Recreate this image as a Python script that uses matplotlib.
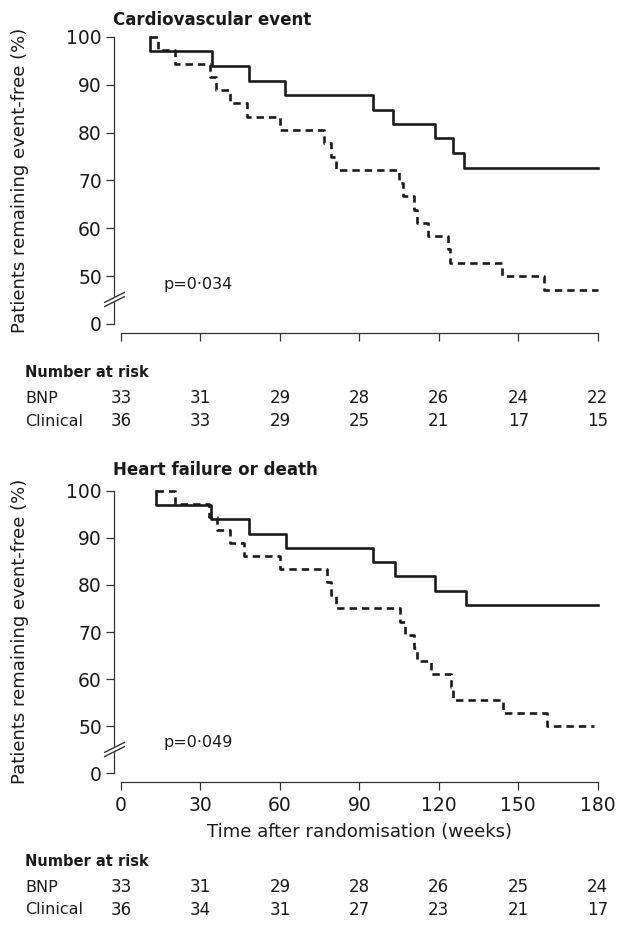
import numpy as np
import matplotlib
matplotlib.use('Agg')
import matplotlib.pyplot as plt
import matplotlib.transforms as mtransforms
from matplotlib.path import Path

plt.rcParams['font.family'] = ['DejaVu Sans']

weeks = [0, 30, 60, 90, 120, 150, 180]
y_ticks = [0, 50, 60, 70, 80, 90, 100]

# Cardiovascular event (top panel)
cv_bnp_t = [11.0, 11.0, 34.4, 48.5, 62.1, 95.2, 102.7, 118.5, 125.2, 129.7, 180.0]
cv_bnp_s = [100.0, 97.0, 93.9, 90.9, 87.9, 84.8, 81.8, 78.8, 75.8, 72.7, 72.7]
cv_clin_t = [11.0, 14.1, 20.4, 33.7, 35.9, 41.2, 47.5, 59.9, 76.8, 79.2, 81.3,
             104.9, 106.5, 110.6, 111.8, 116.0, 123.3, 124.3, 144.0, 159.7, 180.0]
cv_clin_s = [100.0, 97.2, 94.4, 91.7, 88.9, 86.1, 83.3, 80.6, 77.8, 75.0, 72.2,
             69.4, 66.7, 63.9, 61.1, 58.3, 55.6, 52.8, 50.0, 47.2, 47.2]
cv_risk_bnp = [33, 31, 29, 28, 26, 24, 22]
cv_risk_clin = [36, 33, 29, 25, 21, 17, 15]

# Heart failure or death (bottom panel)
hf_bnp_t = [13.1, 13.1, 34.0, 48.5, 62.3, 95.2, 103.4, 118.5, 130.1, 180.0]
hf_bnp_s = [100.0, 97.0, 93.9, 90.9, 87.9, 84.8, 81.8, 78.8, 75.8, 75.8]
hf_clin_t = [13.1, 20.4, 33.4, 36.2, 41.0, 46.6, 60.1, 77.6, 79.4, 81.2,
             105.3, 107.3, 110.6, 111.6, 116.9, 124.6, 125.2, 144.4, 160.7, 178.6]
hf_clin_s = [100.0, 97.2, 94.4, 91.7, 88.9, 86.1, 83.3, 80.6, 77.8, 75.0,
             72.2, 69.4, 66.7, 63.9, 61.1, 58.3, 55.6, 52.8, 50.0, 50.0]
hf_risk_bnp = [33, 31, 29, 28, 26, 25, 24]
hf_risk_clin = [36, 34, 31, 27, 23, 21, 17]

INK = '#1a1a1a'
AXC = '#333333'
BREAK = 45.5   # linear above this, squeezed below (axis break)


def fwd(y):
    y = np.asarray(y, dtype=float)
    return np.where(y >= BREAK, y, 40 + y * (BREAK - 40) / BREAK)


def inv(v):
    v = np.asarray(v, dtype=float)
    return np.where(v >= BREAK, v, (v - 40) * BREAK / (BREAK - 40))


def panel(fig, rect, bnp_t, bnp_s, clin_t, clin_s, pval, pval_y, show_xlabels):
    ax = fig.add_axes(rect)
    ax.step(clin_t, clin_s, where='post', color=INK, lw=1.9,
            linestyle=(0, (2.8, 1.9)), clip_on=False)
    ax.step(bnp_t, bnp_s, where='post', color=INK, lw=1.9, clip_on=False)

    ax.set_yscale('function', functions=(fwd, inv))
    ax.set_ylim(0, 100)
    ax.set_xlim(0, 180)
    ax.set_yticks(y_ticks)
    ax.set_xticks(weeks)
    ax.yaxis.set_minor_locator(matplotlib.ticker.NullLocator())

    for s in ['top', 'right']:
        ax.spines[s].set_visible(False)
    ax.spines['left'].set_position(('outward', 5))
    ax.spines['bottom'].set_position(('outward', 6.5))
    for s in ['left', 'bottom']:
        ax.spines[s].set_color(AXC)
        ax.spines[s].set_linewidth(0.9)
    ax.tick_params(axis='both', direction='out', length=5.5, width=0.9,
                   color=AXC, labelsize=13.5, labelcolor=INK)
    ax.tick_params(axis='y', pad=3.2)
    ax.tick_params(axis='x', pad=4, labelbottom=show_xlabels)

    # axis break marks on the y spine
    brk = Path([(-1, -0.3), (1, 0.7), (-1, -0.7), (1, 0.3)],
               [Path.MOVETO, Path.LINETO, Path.MOVETO, Path.LINETO])
    gap = Path([(-0.8, -0.4), (0.8, 0.4)], [Path.MOVETO, Path.LINETO])
    tr = mtransforms.offset_copy(ax.get_yaxis_transform(), fig=fig,
                                 x=-5, y=0, units='points')
    ax.plot([0], [BREAK - 2], marker=gap, ms=12, mec='white', mew=3.5,
            mfc='none', transform=tr, clip_on=False, zorder=5)
    ax.plot([0], [BREAK - 2], marker=brk, ms=15, mec=AXC, mew=1.0,
            mfc='none', transform=tr, clip_on=False, zorder=6)

    ptr = mtransforms.blended_transform_factory(ax.transData, ax.transAxes)
    ax.text(16, pval_y, pval, fontsize=11.5, color=INK, va='center',
            ha='left', transform=ptr)
    return ax


fig = plt.figure(figsize=(6.18, 9.32), dpi=100)
W, H = 618.0, 932.0

ax1 = panel(fig, [121 / W, 1 - 324 / H, 476.7 / W, 287 / H],
            cv_bnp_t, cv_bnp_s, cv_clin_t, cv_clin_s,
            'p=0\u00b7034', 0.136, False)
ax2 = panel(fig, [121 / W, 1 - 773.3 / H, 476.7 / W, 282.6 / H],
            hf_bnp_t, hf_bnp_s, hf_clin_t, hf_clin_s,
            'p=0\u00b7049', 0.108, True)
ax2.set_xlabel('Time after randomisation (weeks)', fontsize=13, color=INK,
               labelpad=6)

fig.text(113 / W, 1 - 20 / H, 'Cardiovascular event', fontsize=12,
         fontweight='bold', color=INK, va='center', ha='left')
fig.text(113 / W, 1 - 470 / H, 'Heart failure or death', fontsize=12,
         fontweight='bold', color=INK, va='center', ha='left')

for yc in [180.5, 631.0]:
    fig.text(20 / W, 1 - yc / H, 'Patients remaining event-free (%)',
             fontsize=13, rotation=90, ha='center', va='center', color=INK)

# number-at-risk tables
tables = [(ax1, cv_risk_bnp, cv_risk_clin, [372, 398, 421.5]),
          (ax2, hf_risk_bnp, hf_risk_clin, [862, 887, 910])]
for ax, rb, rc, rows in tables:
    fig.text(25 / W, 1 - rows[0] / H, 'Number at risk', fontsize=10.5,
             fontweight='bold', color=INK, va='center', ha='left')
    fig.text(25 / W, 1 - rows[1] / H, 'BNP', fontsize=11.5, color=INK,
             va='center', ha='left')
    fig.text(25 / W, 1 - rows[2] / H, 'Clinical', fontsize=11.5, color=INK,
             va='center', ha='left')
    tr = mtransforms.blended_transform_factory(ax.transData, fig.transFigure)
    for wk, b, c in zip(weeks, rb, rc):
        fig.text(wk, 1 - rows[1] / H, str(b), transform=tr, fontsize=12,
                 color=INK, ha='center', va='center')
        fig.text(wk, 1 - rows[2] / H, str(c), transform=tr, fontsize=12,
                 color=INK, ha='center', va='center')

fig.savefig('out.png', dpi=100)
